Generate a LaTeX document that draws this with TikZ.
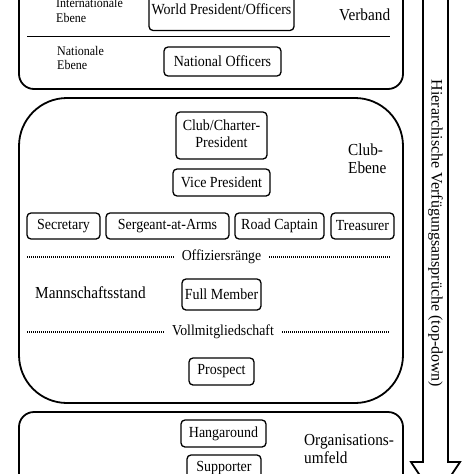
\documentclass[tikz,border=0pt]{standalone}
\usepackage{fontspec}
\usepackage{graphicx}
\setmainfont{Liberation Serif}
\newcommand\vtxt[1]{\scalebox{1}[1.1]{#1}}
\newcommand\vtwo[2]{\scalebox{1}[1.1]{\begin{tabular}{@{}l@{}}#1\\#2\end{tabular}}}
\newcommand\vtwoc[2]{\scalebox{1}[1.1]{\begin{tabular}{@{}c@{}}#1\\#2\end{tabular}}}
\begin{document}
\begin{tikzpicture}[x=1pt,y=-1pt,
  rolebox/.style={draw,line width=1.3pt,rounded corners=4pt,inner sep=0pt,align=center,
    font=\fontsize{14}{15}\selectfont},
  groupbox/.style={draw,line width=1.8pt},
  lbl/.style={inner sep=0pt,align=left,anchor=west},
  small/.style={font=\fontsize{12}{13.5}\selectfont},
  big/.style={font=\fontsize{15.3}{16.5}\selectfont},
  sep/.style={line width=1.3pt,dash pattern=on 1pt off 1pt},
  seplbl/.style={inner xsep=8pt,inner ysep=0pt,font=\fontsize{13.8}{15}\selectfont},
  arrowline/.style={line width=1.8pt,line join=miter}]
\useasboundingbox (0,0) rectangle (474,474);
\clip (0,0) rectangle (474,474);
\fill[white] (0,0) rectangle (474,474);

% group boxes
\draw[groupbox,rounded corners=15pt] (19,-30) rectangle (403,89);
\draw[groupbox,rounded corners=48pt] (19,98) rectangle (403,403);
\draw[groupbox,rounded corners=15pt] (19,412) rectangle (403,530);

% Verband level
\draw[line width=1pt] (27,36) -- (390,36);
\node[rolebox,minimum width=145pt,minimum height=42pt] (wp) at (221.5,9.5) {\vtxt{World President/Officers}};
\node[rolebox,minimum width=117pt,minimum height=29pt] (no) at (222.5,61.5) {\vtxt{National Officers}};
\node[lbl,small] (intl) at (56,12) {\vtwo{Internationale}{Ebene}};
\node[lbl,small] (natl) at (57,59.5) {\vtwo{Nationale}{Ebene}};
\node[lbl,big] (verb) at (339,15) {\vtxt{Verband}};

% Club level
\node[rolebox,minimum width=91pt,minimum height=47pt] (ccp) at (221.5,135.5) {\vtwoc{Club/Charter-}{President}};
\node[rolebox,minimum width=97pt,minimum height=27pt] (vp) at (221.5,182.5) {\vtxt{Vice President}};
\node[lbl,big] (club) at (348,161) {\vtwo{Club-}{Ebene}};
\node[rolebox,minimum width=73pt,minimum height=26pt] (sec) at (63.5,226) {\vtxt{Secretary}};
\node[rolebox,minimum width=123pt,minimum height=26pt] (saa) at (167.5,226) {\vtxt{Sergeant-at-Arms}};
\node[rolebox,minimum width=89pt,minimum height=26pt] (rc) at (279.5,226) {\vtxt{Road Captain}};
\node[rolebox,minimum width=63pt,minimum height=26pt] (tr) at (362.5,226) {\vtxt{Treasurer}};

\node[seplbl] (off) at (221.5,257) {\vtxt{Offiziersränge}};
\coordinate (offL) at (27,257);
\coordinate (offR) at (390,257);
\draw[sep] (offL) -- (off.west);
\draw[sep] (off.east) -- (offR);

\node[lbl,big] (mann) at (35,293) {\vtxt{Mannschaftsstand}};
\node[rolebox,minimum width=79pt,minimum height=31pt] (fm) at (221.5,294.5) {\vtxt{Full Member}};

\node[seplbl] (voll) at (223,332) {\vtxt{Vollmitgliedschaft}};
\coordinate (vollL) at (27,332);
\coordinate (vollR) at (390,332);
\draw[sep] (vollL) -- (voll.west);
\draw[sep] (voll.east) -- (vollR);

\node[rolebox,minimum width=65pt,minimum height=27pt] (pr) at (221.5,371.5) {\vtxt{Prospect}};

% Organisationsumfeld
\node[rolebox,minimum width=85pt,minimum height=27pt] (ha) at (223.5,433.5) {\vtxt{Hangaround}};
\node[rolebox,minimum width=74pt,minimum height=27pt] (su) at (224,468.5) {\vtxt{Supporter}};
\node[lbl,big] (org) at (304,451) {\vtwo{Organisations-}{umfeld}};

% hierarchy arrow
\draw[arrowline,fill=white] (423,-20) -- (423,462) -- (411,462) -- (435.5,499) -- (460,462) -- (448,462) -- (448,-20) -- cycle;
\node[rotate=-90,inner sep=0pt,font=\fontsize{16}{18}\selectfont] (hier) at (435.5,233.5) {Hierarchische Verfügungsansprüche (top-down)};
\end{tikzpicture}
\end{document}
